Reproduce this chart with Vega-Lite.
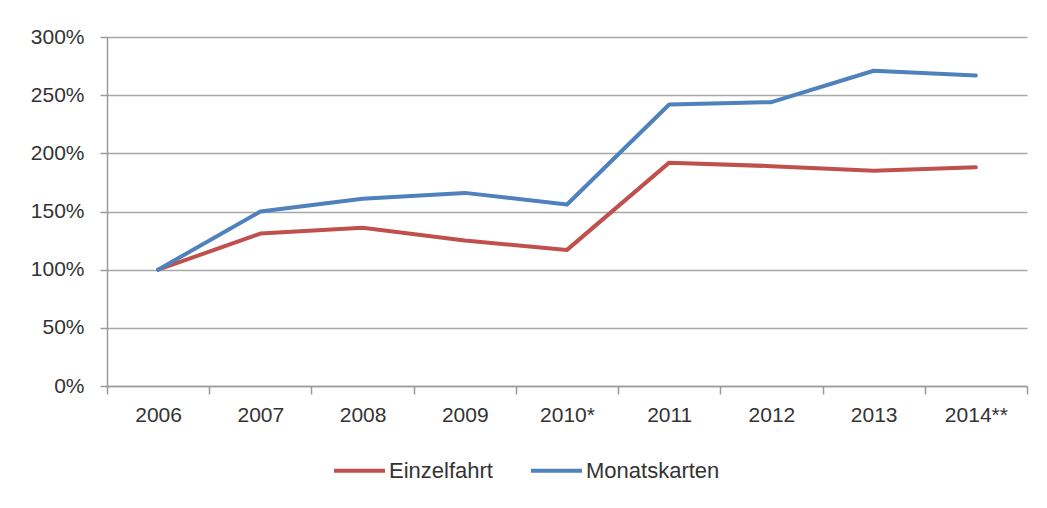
{
  "$schema": "https://vega.github.io/schema/vega-lite/v6.json",
  "autosize": {"type": "none"},
  "width": 920,
  "height": 349,
  "padding": {"left": 107, "top": 37, "right": 20, "bottom": 122},
  "background": "white",
  "config": {
    "font": "Liberation Sans",
    "view": {"stroke": null},
    "axis": {"labelFont": "Liberation Sans", "labelFontSize": 21, "labelColor": "#333333", "domainColor": "#9a9a9a", "tickColor": "#9a9a9a", "gridColor": "#a8a8a8", "domainWidth": 1.5, "tickWidth": 1.5, "gridWidth": 1.5, "title": null}
  },
  "data": {
    "values": [
      {"Jahr": "2006", "Serie": "Einzelfahrt", "Wert": 1.00},
      {"Jahr": "2007", "Serie": "Einzelfahrt", "Wert": 1.31},
      {"Jahr": "2008", "Serie": "Einzelfahrt", "Wert": 1.36},
      {"Jahr": "2009", "Serie": "Einzelfahrt", "Wert": 1.25},
      {"Jahr": "2010*", "Serie": "Einzelfahrt", "Wert": 1.17},
      {"Jahr": "2011", "Serie": "Einzelfahrt", "Wert": 1.92},
      {"Jahr": "2012", "Serie": "Einzelfahrt", "Wert": 1.89},
      {"Jahr": "2013", "Serie": "Einzelfahrt", "Wert": 1.85},
      {"Jahr": "2014**", "Serie": "Einzelfahrt", "Wert": 1.88},
      {"Jahr": "2006", "Serie": "Monatskarten", "Wert": 1.00},
      {"Jahr": "2007", "Serie": "Monatskarten", "Wert": 1.50},
      {"Jahr": "2008", "Serie": "Monatskarten", "Wert": 1.61},
      {"Jahr": "2009", "Serie": "Monatskarten", "Wert": 1.66},
      {"Jahr": "2010*", "Serie": "Monatskarten", "Wert": 1.56},
      {"Jahr": "2011", "Serie": "Monatskarten", "Wert": 2.42},
      {"Jahr": "2012", "Serie": "Monatskarten", "Wert": 2.44},
      {"Jahr": "2013", "Serie": "Monatskarten", "Wert": 2.71},
      {"Jahr": "2014**", "Serie": "Monatskarten", "Wert": 2.67}
    ]
  },
  "mark": {"type": "line", "strokeWidth": 4, "strokeCap": "round", "strokeJoin": "round"},
  "encoding": {
    "x": {
      "field": "Jahr", "type": "ordinal", "sort": null,
      "scale": {"type": "band", "paddingInner": 0, "paddingOuter": 0},
      "axis": {"labelAngle": 0, "tickBand": "extent", "tickSize": 8, "labelPadding": 10, "grid": false}
    },
    "y": {
      "field": "Wert", "type": "quantitative",
      "scale": {"domain": [0, 3], "nice": false},
      "axis": {"values": [0, 0.5, 1, 1.5, 2, 2.5, 3], "format": ".0%", "tickSize": 7, "labelPadding": 16, "grid": true}
    },
    "color": {
      "field": "Serie", "type": "nominal",
      "scale": {"domain": ["Einzelfahrt", "Monatskarten"], "range": ["#C0504D", "#4F81BD"]},
      "legend": {
        "title": null, "orient": "none", "direction": "horizontal",
        "legendX": 225, "legendY": 406,
        "symbolType": "stroke", "symbolSize": 2600, "symbolStrokeWidth": 4,
        "labelFontSize": 22, "labelColor": "#333333", "labelOffset": 2, "columnPadding": 30
      }
    }
  }
}
